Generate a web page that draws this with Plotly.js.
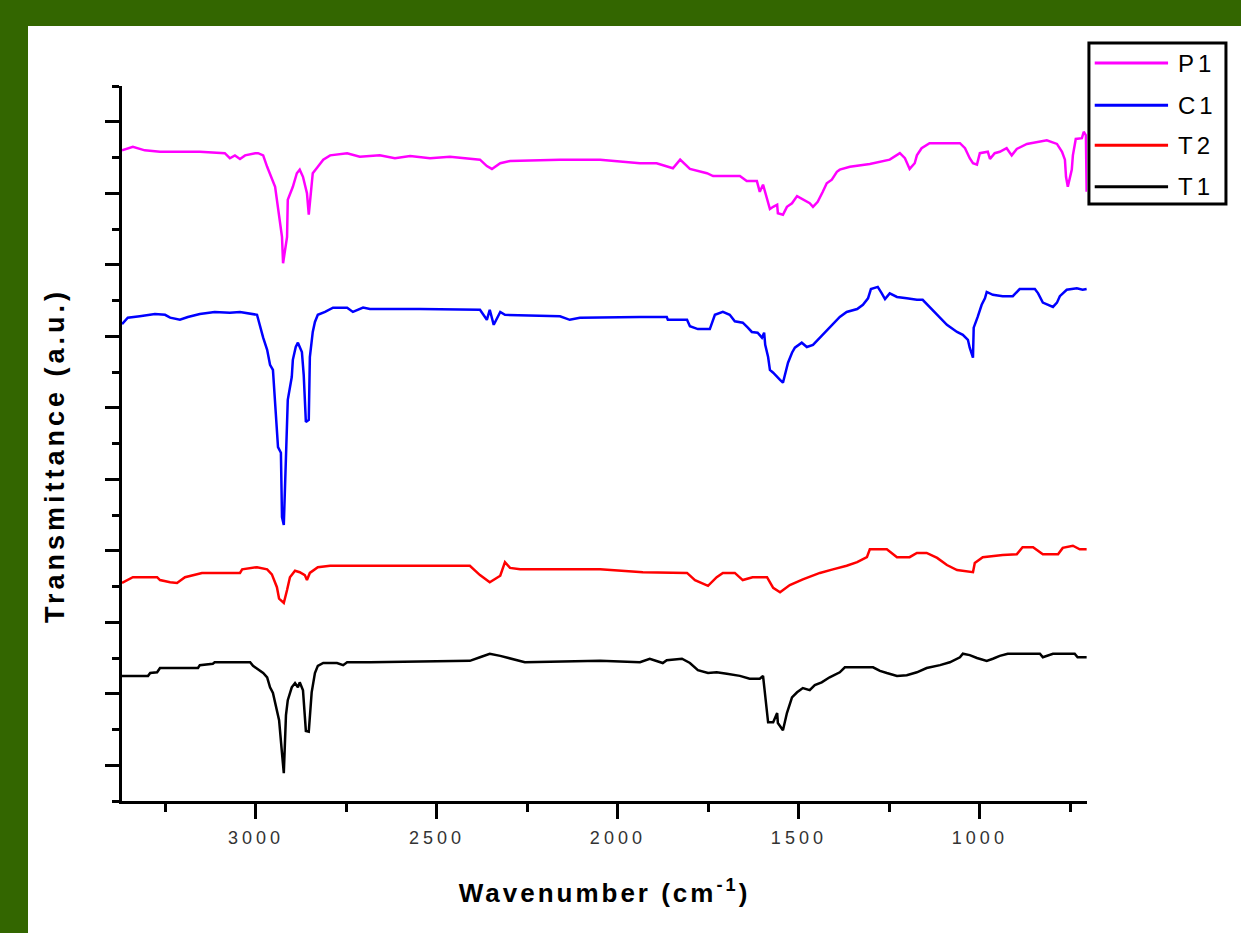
<!DOCTYPE html>
<html><head><meta charset="utf-8">
<script src="https://cdn.plot.ly/plotly-3.0.1.min.js"></script>
<style>
html,body{margin:0;padding:0;background:#336600;width:1241px;height:933px;overflow:hidden;}
#chart{position:absolute;left:28px;top:26px;width:1213px;height:907px;background:#fff;}
#chart .xtick text{letter-spacing:4px;}
#chart .xtitle{letter-spacing:3px;}
#chart .annotation-text{letter-spacing:4px;}
</style></head><body><div id="chart"></div>
<script>
// ---- data ----
const seriesNames = ['P1', 'C1', 'T2', 'T1'];

const p1Wavenumber = [3370,3340,3307,3265,3155,3086,3072,3058,3044,3030,3002,2994,2980,2969,2947,2939,2928,2925,2914,2912,2898,2887,2879,2870,2859,2854,2846,2843,2829,2814,2795,2748,2713,2658,2616,2574,2519,2464,2381,2362,2348,2325,2298,2160,2049,1939,1893,1848,1828,1801,1754,1737,1663,1644,1616,1608,1599,1588,1580,1571,1560,1558,1544,1533,1519,1505,1489,1470,1461,1448,1434,1423,1409,1395,1387,1359,1304,1249,1221,1207,1194,1180,1174,1161,1139,1055,1041,1028,1019,1008,1000,978,972,959,945,926,912,898,870,815,787,773,765,762,757,746,743,735,718,713,707,705];
const p1Transmittance = [9.10,9.15,9.10,9.08,9.08,9.06,8.99,9.03,8.98,9.03,9.06,9.06,9.03,8.87,8.59,8.31,7.89,7.52,7.89,8.41,8.59,8.78,8.83,8.73,8.50,8.20,8.59,8.78,8.87,8.97,9.03,9.06,9.01,9.03,8.99,9.02,8.99,9.01,8.97,8.88,8.84,8.92,8.95,8.97,8.97,8.92,8.92,8.85,8.97,8.84,8.78,8.74,8.74,8.67,8.67,8.52,8.62,8.41,8.28,8.31,8.34,8.22,8.20,8.31,8.36,8.46,8.41,8.36,8.31,8.38,8.52,8.64,8.69,8.80,8.83,8.87,8.91,8.97,9.06,8.99,8.84,8.92,9.03,9.13,9.20,9.20,9.13,8.99,8.92,8.90,9.06,9.08,8.98,9.06,9.08,9.13,9.03,9.12,9.19,9.24,9.19,9.08,8.97,8.73,8.59,8.83,9.03,9.26,9.27,9.36,9.31,8.52];

const c1Wavenumber = [3370,3354,3321,3279,3251,3237,3210,3188,3155,3114,3072,3044,2997,2989,2980,2969,2961,2953,2945,2939,2931,2928,2923,2917,2912,2901,2898,2890,2884,2873,2868,2862,2854,2851,2843,2837,2829,2809,2787,2748,2732,2704,2685,2547,2381,2362,2354,2343,2325,2312,2160,2133,2105,1939,1865,1862,1809,1801,1779,1746,1740,1732,1710,1691,1677,1655,1641,1630,1614,1602,1596,1593,1585,1580,1571,1560,1552,1544,1538,1530,1519,1511,1492,1478,1461,1442,1423,1406,1387,1368,1339,1323,1309,1301,1282,1271,1262,1249,1229,1202,1174,1158,1139,1110,1091,1063,1047,1033,1028,1019,1017,1006,995,986,981,964,937,909,890,848,839,826,812,798,787,779,760,732,716,705];
const c1Transmittance = [6.67,6.76,6.78,6.81,6.80,6.76,6.73,6.77,6.81,6.84,6.83,6.84,6.80,6.63,6.48,6.31,6.10,6.03,5.47,4.95,4.87,3.97,3.86,4.81,5.61,5.93,6.17,6.35,6.41,6.28,5.96,5.30,5.33,6.21,6.56,6.70,6.80,6.84,6.90,6.90,6.84,6.90,6.88,6.88,6.87,6.73,6.87,6.66,6.84,6.80,6.78,6.73,6.76,6.77,6.77,6.73,6.73,6.64,6.60,6.60,6.69,6.80,6.84,6.80,6.71,6.69,6.62,6.56,6.55,6.48,6.55,6.38,6.21,6.03,5.99,5.94,5.89,5.85,5.99,6.13,6.27,6.34,6.41,6.35,6.38,6.48,6.57,6.66,6.77,6.84,6.88,6.94,7.03,7.16,7.19,7.10,7.02,7.10,7.05,7.03,7.01,7.01,6.91,6.77,6.66,6.56,6.52,6.45,6.34,6.20,6.62,6.77,6.94,7.03,7.12,7.08,7.06,7.06,7.16,7.16,7.10,6.97,6.94,6.91,6.97,7.06,7.15,7.17,7.15,7.16];

const t2Wavenumber = [3370,3357,3340,3273,3265,3237,3218,3196,3174,3149,3044,3038,2997,2969,2956,2942,2936,2923,2914,2906,2892,2879,2865,2859,2851,2829,2795,2685,2409,2381,2354,2325,2312,2298,2270,2049,1931,1809,1787,1751,1727,1710,1677,1655,1628,1588,1571,1552,1525,1489,1442,1406,1368,1339,1312,1304,1257,1229,1194,1174,1147,1118,1091,1063,1019,1014,992,937,898,882,853,826,784,771,743,724,705];
const t2Transmittance = [3.05,3.08,3.13,3.13,3.09,3.06,3.05,3.13,3.16,3.19,3.19,3.24,3.27,3.24,3.17,2.99,2.83,2.77,2.95,3.13,3.22,3.20,3.16,3.09,3.19,3.27,3.29,3.29,3.29,3.16,3.06,3.15,3.34,3.26,3.24,3.24,3.20,3.19,3.09,3.01,3.13,3.19,3.19,3.09,3.13,3.13,2.98,2.92,3.02,3.10,3.19,3.24,3.29,3.34,3.41,3.52,3.52,3.41,3.41,3.47,3.47,3.40,3.30,3.23,3.20,3.33,3.41,3.44,3.45,3.55,3.55,3.45,3.45,3.54,3.57,3.52,3.52];

const t1Wavenumber = [3370,3298,3292,3273,3265,3160,3155,3119,3114,3016,3008,2980,2969,2961,2953,2942,2936,2928,2923,2917,2912,2901,2892,2884,2879,2870,2862,2854,2846,2837,2829,2814,2776,2759,2748,2685,2409,2381,2354,2325,2298,2257,2049,1939,1912,1876,1865,1823,1801,1779,1751,1727,1699,1663,1636,1608,1599,1596,1591,1585,1571,1560,1558,1544,1533,1519,1505,1489,1470,1456,1437,1415,1387,1373,1295,1276,1257,1229,1202,1174,1147,1110,1083,1055,1047,1028,1008,981,964,945,923,834,826,798,738,730,705];
const t1Transmittance = [1.75,1.75,1.79,1.80,1.86,1.86,1.90,1.92,1.94,1.94,1.89,1.79,1.73,1.59,1.51,1.23,1.13,0.67,0.39,1.20,1.41,1.59,1.65,1.59,1.66,1.55,0.98,0.97,1.52,1.79,1.89,1.93,1.93,1.90,1.94,1.94,1.96,2.01,2.06,2.03,1.99,1.94,1.96,1.94,1.99,1.93,1.97,1.99,1.93,1.83,1.79,1.80,1.78,1.75,1.71,1.71,1.75,1.61,1.34,1.10,1.10,1.23,1.09,0.99,1.23,1.45,1.52,1.58,1.55,1.62,1.66,1.73,1.80,1.87,1.87,1.82,1.79,1.75,1.76,1.80,1.86,1.90,1.94,2.01,2.06,2.04,2.00,1.96,1.99,2.03,2.06,2.06,2.01,2.06,2.06,2.01,2.01];

const xTickValues = [3000, 2500, 2000, 1500, 1000];
const xTitle = 'Wavenumber (cm<sup>-1</sup>)';
const yTitle = 'Transmittance (a.u.)';

// ---- styles ----
const seriesColors = ['#ff00ff', '#0000ff', '#ff0000', '#000000'];
const FONT = 'Arial, "Liberation Sans", sans-serif';

const xs = [p1Wavenumber, c1Wavenumber, t2Wavenumber, t1Wavenumber];
const ys = [p1Transmittance, c1Transmittance, t2Transmittance, t1Transmittance];

const traces = seriesNames.map((name, i) => ({
  type: 'scatter', mode: 'lines', name: name,
  x: xs[i], y: ys[i],
  line: {color: seriesColors[i], width: 2.5},
  hoverinfo: 'x+y+name'
}));

// custom legend box (paper coordinates)
const legX0 = 1.002, legX1 = 1.144, legY0 = 0.835, legY1 = 1.060;
const legRowY = [1.032, 0.973, 0.917, 0.859];
const shapes = [{
  type: 'rect', xref: 'paper', yref: 'paper',
  x0: legX0, x1: legX1, y0: legY0, y1: legY1,
  line: {color: '#000', width: 3}, fillcolor: '#fff', layer: 'above'
}];
const annotations = [];
seriesNames.forEach((name, i) => {
  shapes.push({
    type: 'line', xref: 'paper', yref: 'paper',
    x0: 1.008, x1: 1.084, y0: legRowY[i], y1: legRowY[i],
    line: {color: seriesColors[i], width: 3}, layer: 'above'
  });
  annotations.push({
    xref: 'paper', yref: 'paper', x: 1.096, y: legRowY[i],
    xanchor: 'left', yanchor: 'middle', showarrow: false,
    text: name, font: {family: FONT, size: 24, color: '#000'}
  });
});
// y-axis title, placed as in the reference
annotations.push({
  xref: 'paper', yref: 'paper', x: -0.0694, y: 0.4825,
  xanchor: 'center', yanchor: 'middle', showarrow: false, textangle: -90,
  text: yTitle, font: {family: FONT, size: 27, weight: 'bold', color: '#000'}
});

const axisCommon = {
  showgrid: false, zeroline: false, showline: true,
  linecolor: '#000', linewidth: 2.5,
  ticks: 'outside', tickcolor: '#000', tickwidth: 2.5
};

const layout = {
  width: 1213, height: 907,
  margin: {l: 94, r: 154, t: 60, b: 132},
  paper_bgcolor: '#ffffff', plot_bgcolor: '#ffffff',
  showlegend: false,
  font: {family: FONT, color: '#000'},
  xaxis: Object.assign({}, axisCommon, {
    range: [3370, 704],
    tickvals: xTickValues,
    ticktext: xTickValues.map(String),
    ticklen: 15,
    tickfont: {family: FONT, size: 18, color: '#333'},
    ticklabelstandoff: 4,
    minor: {dtick: 250, tick0: 0, ticks: 'outside', ticklen: 8, tickwidth: 2.5, tickcolor: '#000', showgrid: false},
    title: {text: xTitle, font: {family: FONT, size: 26, weight: 'bold', color: '#000'}, standoff: 37}
  }),
  yaxis: Object.assign({}, axisCommon, {
    range: [0, 10],
    tick0: 0.5, dtick: 1,
    ticklen: 14,
    showticklabels: false,
    minor: {dtick: 0.5, tick0: 0, ticks: 'outside', ticklen: 7, tickwidth: 2.5, tickcolor: '#000', showgrid: false}
  }),
  shapes: shapes,
  annotations: annotations
};

Plotly.newPlot('chart', traces, layout, {displayModeBar: false});
</script>
</body></html>
